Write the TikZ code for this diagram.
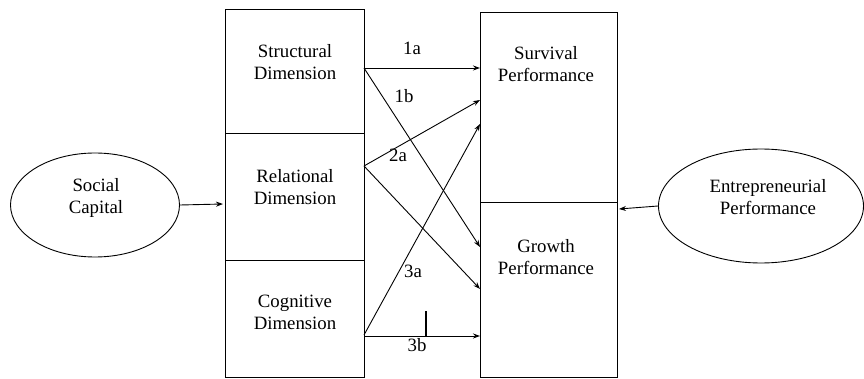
\documentclass[tikz,border=0pt]{standalone}
\usepackage{fontspec}
\setmainfont{Liberation Serif}
\usetikzlibrary{arrows.meta,shapes.geometric}
\begin{document}
\begin{tikzpicture}[x=1pt,y=-1pt,
  every node/.style={font=\fontsize{18.8}{22}\selectfont},
  box/.style={draw,line width=0.9pt,anchor=north west,inner sep=0pt},
  txt/.style={align=center,inner sep=0pt},
  oval/.style={draw,line width=0.9pt,ellipse,inner sep=0pt},
  lbl/.style={inner sep=0pt},
  conn/.style={line width=0.9pt,-{Stealth[length=7pt,width=5pt]}}]
\useasboundingbox (0,0) rectangle (864,379);
% left boxes
\node[box,minimum width=139pt,minimum height=124pt] (sd) at (225,9) {};
\node[box,minimum width=139pt,minimum height=127pt] (rd) at (225,133) {};
\node[box,minimum width=139pt,minimum height=117pt] (cd) at (225,260) {};
% right boxes
\node[box,minimum width=137pt,minimum height=190pt] (sp) at (480,12) {};
\node[box,minimum width=137pt,minimum height=175pt] (gp) at (480,202) {};
% texts
\node[txt] (sdt) at (295,62) {Structural\\Dimension};
\node[txt] (rdt) at (295,187) {Relational\\Dimension};
\node[txt] (cdt) at (295,312) {Cognitive\\Dimension};
\node[txt] (spt) at (546,64) {Survival\\Performance};
\node[txt] (gpt) at (546,257) {Growth\\Performance};
% ellipses
\node[oval,minimum width=169pt,minimum height=104pt] (sc) at (95,205) {};
\node[txt] (sct) at (96,198) {Social\\Capital};
\node[oval,minimum width=205pt,minimum height=114pt] (ep) at (761,206) {};
\node[txt] (ept) at (768,197) {Entrepreneurial\\Performance};
% connector end points
\coordinate (s1) at (364,68);
\coordinate (r1) at (364,166);
\coordinate (c1) at (364,335);
\coordinate (c2) at (364,336);
\coordinate (p1) at (480,68);
\coordinate (p2) at (480,100);
\coordinate (p3) at (480,124);
\coordinate (g1) at (480,247);
\coordinate (g2) at (480,289);
\coordinate (g3) at (480,336);
\coordinate (sc1) at (223,204);
\coordinate (ep1) at (619,209);
\coordinate (tk1) at (426,311);
\coordinate (tk2) at (426,336);
% connectors
\draw[conn] (sc.east) -- (sc1);
\draw[conn] (ep.west) -- (ep1);
\draw[conn] (s1) -- (p1);
\draw[conn] (s1) -- (g1);
\draw[conn] (r1) -- (p2);
\draw[conn] (r1) -- (g2);
\draw[conn] (c1) -- (p3);
\draw[conn] (c2) -- (g3);
\draw[line width=1.4pt] (tk1) -- (tk2);
% labels
\node[lbl] (l1a) at (412,48) {1a};
\node[lbl] (l1b) at (404,96) {1b};
\node[lbl] (l2a) at (398,155) {2a};
\node[lbl] (l3a) at (413,271) {3a};
\node[lbl] (l3b) at (417,345) {3b};
\end{tikzpicture}
\end{document}
